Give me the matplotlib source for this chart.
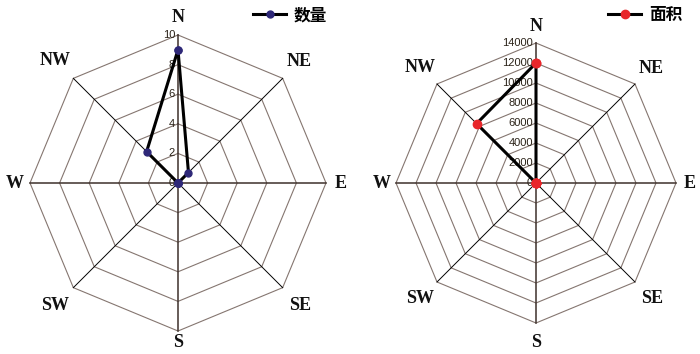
import numpy as np
import matplotlib
matplotlib.use('Agg')
import matplotlib.pyplot as plt

directions = ['N', 'NE', 'E', 'SE', 'S', 'SW', 'W', 'NW']
count = [9, 1, 0, 0, 0, 0, 0, 3]
area = [12000, 0, 0, 0, 0, 0, 0, 8400]
count_ticks = [0, 2, 4, 6, 8, 10]
area_ticks = [0, 2000, 4000, 6000, 8000, 10000, 12000, 14000]

W, H = 700, 354
ring_color = '#857670'
label_dist = [1.12, 1.16, 1.1, 1.17, 1.07, 1.17, 1.1, 1.17]


def to_xy(r, i):
    a = np.deg2rad(i * 45)
    return r * np.sin(a), r * np.cos(a)


def radar(ax, values, ticks, cx, cy, rpx, color, label, msize, legx):
    rmax = ticks[-1]
    s = rpx / rmax  # pixels per unit
    ax.set_xlim(-cx / s, (W - cx) / s)
    ax.set_ylim(-(H - cy) / s, cy / s)
    ax.axis('off')

    # rings
    for t in ticks[1:]:
        pts = [to_xy(t, i) for i in range(9)]
        ax.plot([p[0] for p in pts], [p[1] for p in pts], color=ring_color, lw=0.8, zorder=1)
    # spokes
    for i in range(8):
        x, y = to_xy(rmax, i)
        if i % 2 == 0:
            ax.plot([0, x], [0, y], color='#3d302b', lw=1.1, zorder=2)
        else:
            ax.plot([0, x], [0, y], color='black', lw=0.7, zorder=2)
    # direction labels
    for i, d in enumerate(directions):
        if d == 'S':
            # bottom label sits on its baseline near the figure edge
            ax.text(0, -(H - 7 - cy) / s, d, ha='center', va='baseline', fontsize=13,
                    fontweight='bold', family='Liberation Serif', color='#111111')
            continue
        x, y = to_xy(rmax * label_dist[i], i)
        ax.text(x, y, d, ha='center', va='center', fontsize=13, fontweight='bold',
                family='Liberation Serif', color='#111111')
    # tick labels
    for t in ticks:
        ax.text(-3 / s, t, str(t), ha='right', va='center', fontsize=8,
                family='Liberation Sans', color='#2a2218', zorder=3)
    # data
    xs, ys = [], []
    for i, v in enumerate(values + values[:1]):
        x, y = to_xy(v, i % 8)
        xs.append(x)
        ys.append(y)
    line, = ax.plot(xs, ys, color='black', lw=2.2, marker='o', markersize=msize,
                    markerfacecolor=color, markeredgecolor=color, label=label, zorder=4)
    ax.legend(handles=[line], loc='center left', bbox_to_anchor=(legx / W, 1 - 15 / H),
              bbox_transform=ax.figure.transFigure, frameon=False, borderpad=0,
              borderaxespad=0, handlelength=2.0, handletextpad=0.45,
              prop={'family': 'Noto Sans CJK SC', 'weight': 'bold', 'size': 12})


fig = plt.figure(figsize=(7, 3.54), dpi=100)
ax1 = fig.add_axes([0, 0, 1, 1])
ax1.patch.set_alpha(0)
radar(ax1, count, count_ticks, 178, 183, 148, '#2e2878', '数量', 5, 253)
ax2 = fig.add_axes([0, 0, 1, 1])
ax2.patch.set_alpha(0)
radar(ax2, area, area_ticks, 536, 183, 140, '#e8262a', '面积', 6, 608)

fig.savefig('out.png', dpi=100)
